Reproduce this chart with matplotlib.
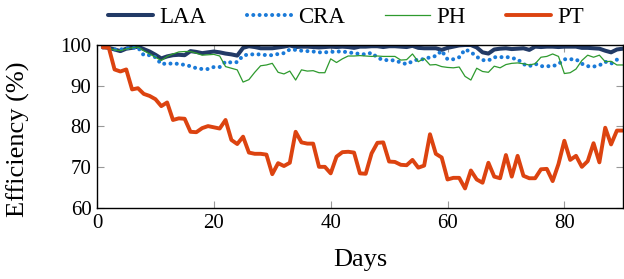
import numpy as np
import matplotlib
matplotlib.use('Agg')
import matplotlib.pyplot as plt

plt.rcParams['font.family'] = ['Liberation Serif', 'DejaVu Serif']

# data to plot (one value per day)
days = np.arange(1, 91)

laa = [99.5, 99.3, 98.9, 98.5, 99.1, 99.3, 99.6, 99.0, 98.4, 97.6,
       96.7, 97.2, 97.5, 97.6, 97.5, 98.5, 98.3, 98.0, 98.2, 98.4,
       98.2, 97.9, 97.7, 97.4, 99.3, 99.7, 99.5, 99.2, 99.2, 99.2,
       99.4, 99.6, 99.9, 99.5, 99.6, 99.6, 99.5, 99.4, 99.5, 99.6,
       99.5, 99.6, 99.5, 99.3, 99.6, 99.6, 99.7, 99.7, 99.5, 99.7,
       99.7, 99.6, 99.5, 99.8, 99.3, 99.2, 99.2, 99.2, 98.8, 99.3,
       99.6, 99.9, 100.0, 100.0, 99.4, 98.2, 97.9, 98.9, 99.1, 99.2,
       99.0, 99.1, 99.2, 98.8, 99.6, 99.5, 99.6, 99.6, 99.5, 99.6,
       99.6, 99.6, 99.3, 99.3, 99.2, 99.1, 98.6, 98.2, 98.9, 99.1]

cra = [99.4, 99.2, 98.9, 98.9, 99.2, 99.3, 99.4, 97.5, 97.5, 97.0,
       95.3, 95.5, 95.4, 95.4, 95.1, 94.8, 94.3, 94.1, 94.1, 94.6,
       94.6, 95.9, 95.7, 95.8, 97.4, 97.7, 97.7, 97.7, 97.5, 97.5,
       97.8, 98.0, 98.9, 98.8, 98.6, 98.5, 98.4, 98.2, 98.2, 98.3,
       98.4, 98.4, 98.2, 98.0, 97.8, 97.7, 98.1, 96.9, 96.3, 96.3,
       96.2, 95.7, 95.3, 96.0, 96.5, 96.5, 97.0, 97.3, 98.6, 96.5,
       96.5, 97.0, 98.9, 98.3, 97.1, 96.3, 96.2, 97.0, 97.0, 97.1,
       96.8, 96.5, 95.3, 94.8, 95.4, 94.8, 94.8, 94.8, 95.3, 96.5,
       96.5, 96.5, 95.4, 94.8, 94.7, 95.0, 95.9, 95.4, 96.4, 96.6]

ph = [99.4, 99.2, 98.8, 98.6, 99.0, 99.3, 99.5, 98.6, 97.8, 97.0,
      96.2, 97.2, 97.8, 98.3, 98.4, 98.4, 98.0, 97.5, 97.6, 97.7,
      97.3, 94.7, 94.3, 93.9, 90.9, 91.5, 93.3, 94.9, 95.1, 95.5,
      93.3, 92.9, 93.6, 91.4, 93.9, 93.6, 93.7, 93.2, 93.2, 96.6,
      95.7, 96.6, 97.3, 97.3, 97.4, 97.3, 97.2, 97.3, 97.2, 97.2,
      97.2, 96.3, 96.4, 97.8, 95.9, 96.7, 95.1, 95.2, 94.7, 94.5,
      94.4, 94.6, 92.3, 91.4, 94.3, 93.5, 93.3, 94.8, 94.4, 95.2,
      95.5, 95.6, 95.4, 95.1, 95.4, 97.0, 97.2, 97.8, 97.2, 93.0,
      93.2, 94.1, 96.2, 97.5, 97.0, 97.5, 95.9, 96.0, 95.1, 95.1]

pt = [99.4, 99.4, 94.0, 93.5, 94.0, 89.1, 89.4, 88.0, 87.5, 86.7,
      85.0, 85.9, 81.6, 82.0, 81.9, 78.7, 78.6, 79.6, 80.1, 79.8,
      79.5, 81.6, 76.7, 75.7, 77.5, 73.6, 73.3, 73.3, 73.1, 68.3,
      71.0, 70.3, 71.1, 78.7, 76.1, 75.8, 75.8, 70.1, 70.1, 68.5,
      72.6, 73.7, 73.8, 73.6, 68.5, 68.4, 73.4, 76.0, 76.1, 71.4,
      71.3, 70.6, 70.5, 71.8, 69.9, 70.4, 78.1, 73.3, 72.4, 67.0,
      67.4, 67.4, 64.8, 69.2, 67.0, 66.2, 71.1, 67.7, 67.3, 73.0,
      67.7, 72.8, 67.9, 67.3, 67.3, 69.5, 69.6, 66.6, 70.8, 76.5,
      71.8, 72.8, 70.1, 71.5, 75.9, 71.2, 79.7, 75.6, 79.0, 79.0]

# create plot
fig = plt.figure(figsize=(6.24, 2.79), dpi=100)
ax = fig.add_axes([0.1555, 0.2545, 0.8425, 0.5842])

ax.plot(days, laa, color='#223a66', lw=2.9, label='LAA', solid_capstyle='round')
ax.plot(days, cra, color='#1a7ad8', lw=2.9, linestyle=(0, (0.01, 1.55)),
        dash_capstyle='round', label='CRA')
ax.plot(days, ph, color='#2e9a2e', lw=0.9, label='PH')
ax.plot(days, pt, color='#dc4310', lw=2.8, label='PT', solid_capstyle='round')

ax.set_xlim(0, 90)
ax.set_ylim(60, 100)
ax.set_xticks([0, 20, 40, 60, 80])
ax.set_yticks([60, 70, 80, 90, 100])
ax.tick_params(direction='in', length=5, width=0.8, color='#999999',
               top=True, right=True, labelsize=15, pad=4)
for s in ax.spines.values():
    s.set_linewidth(1.0)

ax.set_xlabel('Days', fontsize=19, labelpad=12)
ax.set_ylabel('Efficiency (%)', fontsize=19)
ax.yaxis.set_label_coords(-0.127, 0.42)

ax.legend(loc='center', bbox_to_anchor=(0.474, 1.17), ncol=4, frameon=False,
          fontsize=16.5, handlelength=1.95, handletextpad=0.3, columnspacing=1.75,
          borderaxespad=0)

fig.savefig('out.png', dpi=100)
